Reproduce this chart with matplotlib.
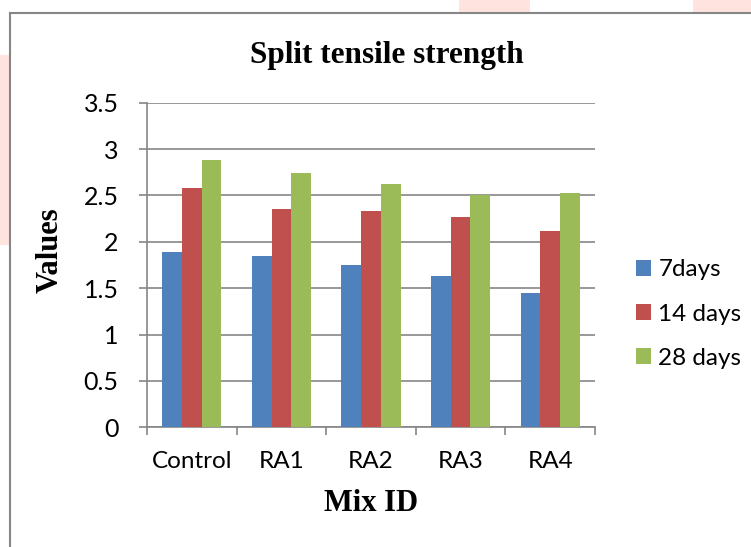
import numpy as np
import matplotlib.pyplot as plt
from matplotlib.patches import Rectangle
from matplotlib.lines import Line2D

# split tensile strength per mix
mixes = ["Control", "RA1", "RA2", "RA3", "RA4"]
days_7 = [1.89, 1.85, 1.75, 1.63, 1.45]
days_14 = [2.58, 2.35, 2.33, 2.27, 2.12]
days_28 = [2.88, 2.74, 2.62, 2.51, 2.53]
series_labels = ["7days", "14 days", "28 days"]
colors = ["#4F81BD", "#C0504D", "#9BBB59"]
yticks = [0, 0.5, 1, 1.5, 2, 2.5, 3, 3.5]

grey = "#868686"
tick_font = "Lato"
serif = "Liberation Serif"

fig = plt.figure(figsize=(7.51, 5.47), dpi=100)

# faint watermark bits and the chart-area frame
for x0, y0, w, h in [(0, 55, 9, 190), (459, 0, 71, 12), (693, 0, 58, 12)]:
    fig.patches.append(Rectangle((x0 / 751, 1 - (y0 + h) / 547), w / 751, h / 547,
                                 transform=fig.transFigure, color="#FFE3DE", lw=0, zorder=0))
fig.lines.append(Line2D([10 / 751, 10 / 751], [0, 1 - 13 / 547], transform=fig.transFigure,
                        color=grey, lw=1.5))
fig.lines.append(Line2D([10 / 751, 1], [1 - 13 / 547, 1 - 13 / 547], transform=fig.transFigure,
                        color=grey, lw=1.5))

ax = fig.add_axes([147 / 751, 1 - 427.3 / 547, 448 / 751, 324.6 / 547])

x = np.arange(len(mixes))
width = 0.22
for i, (vals, lab, c) in enumerate(zip([days_7, days_14, days_28], series_labels, colors)):
    ax.bar(x + (i - 1) * width, vals, width, color=c, label=lab, zorder=3, edgecolor="none")

ax.set_xlim(-0.5, len(mixes) - 0.5)
ax.set_ylim(0, 3.5)
ax.set_yticks(yticks)
ax.set_yticklabels([f"{v:g}" for v in yticks], fontfamily=tick_font, fontsize=18)
ax.set_xticks(x)
ax.set_xticklabels(mixes, fontfamily=tick_font, fontsize=17.5)
ax.set_xticks(np.arange(-0.5, len(mixes)), minor=True)
ax.tick_params(axis="x", which="major", length=0, pad=17)
ax.tick_params(axis="x", which="minor", length=5.5, color=grey, width=1.2)
ax.tick_params(axis="y", length=5.5, color=grey, width=1.2, pad=15)

ax.grid(axis="y", color=grey, lw=1.2, zorder=0)
for s in ["top", "right"]:
    ax.spines[s].set_visible(False)
for s in ["left", "bottom"]:
    ax.spines[s].set_color(grey)
    ax.spines[s].set_linewidth(1.2)

ax.set_xlabel("Mix ID", fontfamily=serif, fontweight="bold", fontsize=22)
ax.xaxis.set_label_coords(0.5, -0.236)
ax.xaxis.label.set_va("center")
ax.set_ylabel("Values", fontfamily=serif, fontweight="bold", fontsize=22)
ax.yaxis.set_label_coords(-0.2165, 0.546)
ax.yaxis.label.set_va("center")

fig.text(387 / 751, 1 - 55 / 547, "Split tensile strength", ha="center", va="center",
         fontfamily=serif, fontweight="bold", fontsize=22.5)

ax.legend(loc="center left", bbox_to_anchor=(1.0915, 0.349), frameon=False,
          prop={"family": tick_font, "size": 17.5}, handlelength=0.62, handleheight=0.62,
          handletextpad=0.3, labelspacing=0.95, borderpad=0, borderaxespad=0)

plt.savefig("out.png", dpi=100)
